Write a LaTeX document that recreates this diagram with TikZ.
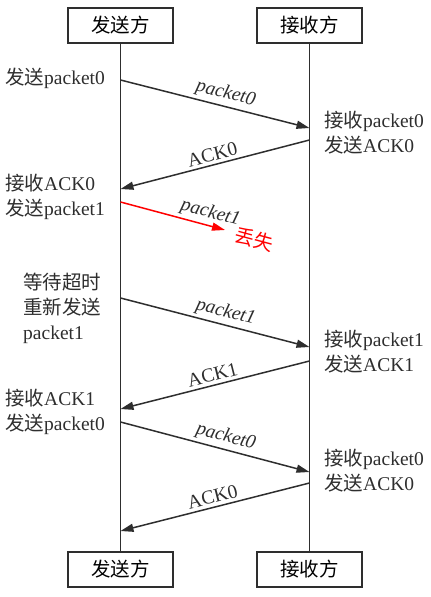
\documentclass[tikz,border=0pt]{standalone}
\usepackage{fontspec}
\setmainfont{Liberation Serif}
\newfontfamily\cjk{Noto Sans CJK SC}
\usetikzlibrary{arrows.meta}
\definecolor{ink}{HTML}{2E2E2E}
\newcommand{\zh}[1]{{\cjk #1}}
\begin{document}
\begin{tikzpicture}[x=1pt,y=-1pt,
  txt/.style={font=\fontsize{19.5}{25}\selectfont, inner sep=0pt, text=ink, align=left},
  box/.style={draw=ink, line width=1.4pt, minimum width=105pt, minimum height=35pt, inner sep=0pt, font=\fontsize{19.5}{22}\selectfont},
  life/.style={draw=ink, line width=1.5pt},
  msg/.style={draw=ink, line width=1.5pt, -{Triangle[length=13pt,width=8pt]}},
  lost/.style={draw=red, line width=1.5pt, -{Triangle[length=13pt,width=8pt]}},
  mlab/.style={font=\fontsize{19.5}{22}\selectfont\itshape, text=ink, sloped, above, inner sep=3pt, pos=0.54},
  alab/.style={font=\fontsize{19.5}{22}\selectfont, text=ink, sloped, above, inner sep=3pt}
]
\useasboundingbox (0,0) rectangle (431,597);

\node[box] (s1) at (120.5,25.5) {\zh{发送方}};
\node[box] (r1) at (309.5,25.5) {\zh{接收方}};
\node[box] (s2) at (120.5,569.5) {\zh{发送方}};
\node[box] (r2) at (309.5,569.5) {\zh{接收方}};

\draw[life] (s1) -- (s2);
\draw[life] (r1) -- (r2);

% coordinates on lifelines
\coordinate (a1) at (120.5,80);  \coordinate (b1) at (309.5,128);
\coordinate (b2) at (309.5,140); \coordinate (a2) at (120.5,189);
\coordinate (a3) at (120.5,202); \coordinate (x3) at (225,230);
\coordinate (a4) at (120.5,298); \coordinate (b4) at (309.5,347);
\coordinate (b5) at (309.5,361); \coordinate (a5) at (120.5,409);
\coordinate (a6) at (120.5,422); \coordinate (b6) at (309.5,472);
\coordinate (b7) at (309.5,483); \coordinate (a7) at (120.5,531);

\draw[msg] (a1) -- node[mlab] (l1) {packet0} (b1);
\draw[msg] (b2) -- node[alab] (l2) {ACK0} (a2);
\draw[lost] (a3) -- node[mlab, pos=0.83] (l3) {packet1} (x3);
\node[text=red, font=\fontsize{19.5}{22}\selectfont\cjk, rotate=-15, inner sep=0pt] (lostlab) at (254,239) {丢失};
\draw[msg] (a4) -- node[mlab] (l4) {packet1} (b4);
\draw[msg] (b5) -- node[alab] (l5) {ACK1} (a5);
\draw[msg] (a6) -- node[mlab] (l6) {packet0} (b6);
\draw[msg] (b7) -- node[alab] (l7) {ACK0} (a7);

% left texts
\node[txt, anchor=west] (t1) at (5,78) {\zh{发送}packet0};
\node[txt, anchor=west] (t2) at (5,196.5) {\zh{接收}ACK0\\\zh{发送}packet1};
\node[txt, anchor=west] (t3) at (23,308.5) {\zh{等待超时}\\\zh{重新发送}\\packet1};
\node[txt, anchor=west] (t4) at (5,412) {\zh{接收}ACK1\\\zh{发送}packet0};

% right texts
\node[txt, anchor=west] (u1) at (324,132.5) {\zh{接收}packet0\\\zh{发送}ACK0};
\node[txt, anchor=west] (u2) at (324,351.5) {\zh{接收}packet1\\\zh{发送}ACK1};
\node[txt, anchor=west] (u3) at (324,470.5) {\zh{接收}packet0\\\zh{发送}ACK0};
\end{tikzpicture}
\end{document}
